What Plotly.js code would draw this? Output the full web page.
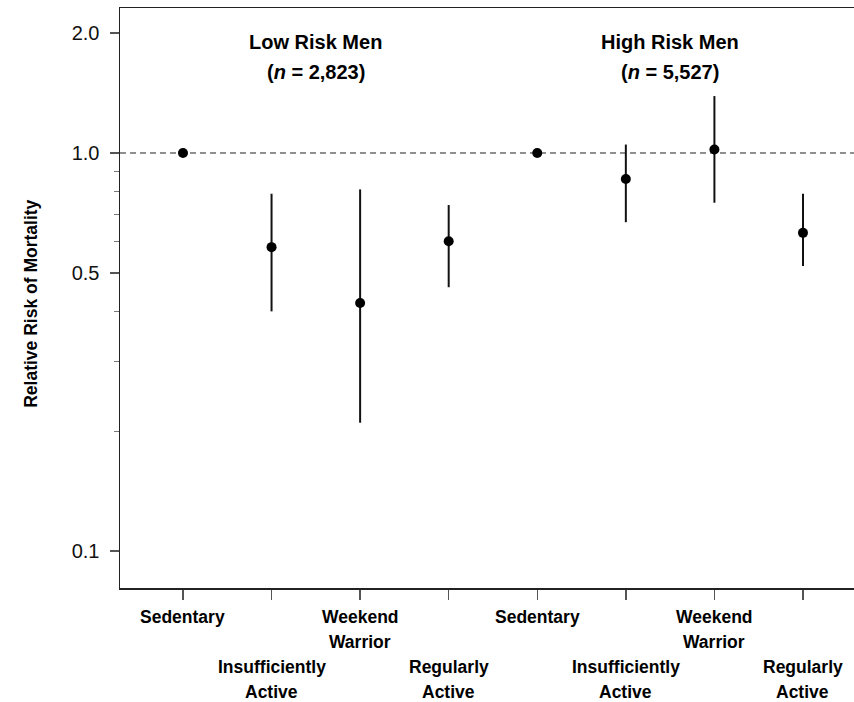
<!DOCTYPE html>
<html>
<head>
<meta charset="utf-8">
<script src="https://cdn.plot.ly/plotly-3.0.1.min.js"></script>
<style>html,body{margin:0;padding:0;background:#fff;}#chart{width:854px;height:702px;}</style>
</head>
<body>
<div id="chart"></div>
<script>
// ---- data ----
const categories = ["Sedentary", "Insufficiently Active", "Weekend Warrior", "Regularly Active"];
const categoryLines = [["Sedentary"], ["Insufficiently", "Active"], ["Weekend", "Warrior"], ["Regularly", "Active"]];
const groups = ["Low Risk Men", "High Risk Men"];
const groupN = ["2,823", "5,527"];

const lowRR   = [1.00, 0.58, 0.42, 0.60];
const lowLow  = [1.00, 0.40, 0.21, 0.46];
const lowHigh = [1.00, 0.79, 0.81, 0.74];

const highRR   = [1.00, 0.86, 1.02, 0.63];
const highLow  = [1.00, 0.67, 0.75, 0.52];
const highHigh = [1.00, 1.05, 1.39, 0.79];

const yTickVals = [0.1, 0.5, 1.0, 2.0];
const yTickText = ["0.1", "0.5", "1.0", "2.0"];
const yMinorVals = [0.2, 0.3, 0.4, 0.6, 0.7, 0.8, 0.9];
const referenceRR = 1.0;

// ---- build ----
const FONT = "Liberation Sans, Arial, Helvetica, sans-serif";
const nC = categories.length;
const series = [
  {rr: lowRR, lo: lowLow, hi: lowHigh},
  {rr: highRR, lo: highLow, hi: highHigh}
];

const traces = series.map((s, g) => ({
  type: "scatter",
  mode: "markers",
  x: s.rr.map((_, i) => g * nC + i),
  y: s.rr,
  marker: {color: "#000", size: 10},
  error_y: {
    type: "data",
    symmetric: false,
    array: s.hi.map((h, i) => h - s.rr[i]),
    arrayminus: s.lo.map((l, i) => s.rr[i] - l),
    color: "#111",
    thickness: 2,
    width: 0
  },
  hoverinfo: "skip",
  showlegend: false
}));

const allX = [];
for (let g = 0; g < groups.length; g++) for (let i = 0; i < nC; i++) allX.push(g * nC + i);

const annotations = [];
// group titles
groups.forEach((name, g) => {
  const cx = g * nC + (nC - 1) / 2;
  annotations.push({
    x: cx, xref: "x", y: 0.941, yref: "paper", yanchor: "middle",
    text: "<b>" + name + "</b>", showarrow: false,
    font: {family: FONT, size: 20, color: "#000"}
  });
  annotations.push({
    x: cx, xref: "x", y: 0.889, yref: "paper", yanchor: "middle",
    text: "<b>(<i>n</i> = " + groupN[g] + ")</b>", showarrow: false,
    font: {family: FONT, size: 20, color: "#000"}
  });
});
// staggered category labels
allX.forEach((xv) => {
  const ci = xv % nC;
  const startRow = (ci % 2 === 1) ? 2 : 0;
  categoryLines[ci].forEach((line, j) => {
    annotations.push({
      x: xv, xref: "x", y: 0, yref: "paper", yanchor: "middle",
      yshift: -(29 + 25 * (startRow + j)),
      text: "<b>" + line + "</b>", showarrow: false,
      font: {family: FONT, size: 17.5, color: "#000"}
    });
  });
});
// y title
annotations.push({
  x: 0, xref: "paper", xshift: -89, y: 0.49, yref: "paper",
  xanchor: "center", yanchor: "middle", textangle: -90,
  text: "<b>Relative Risk of Mortality</b>", showarrow: false,
  font: {family: FONT, size: 17.5, color: "#000"}
});

const layout = {
  width: 854, height: 702,
  margin: {l: 120, r: 0, t: 8, b: 114},
  paper_bgcolor: "#fff", plot_bgcolor: "#fff",
  font: {family: FONT, color: "#000"},
  showlegend: false,
  xaxis: {
    range: [-0.711, 7.576],
    tickmode: "array", tickvals: allX, ticktext: allX.map(() => ""),
    showticklabels: false,
    ticks: "outside", ticklen: 10, tickwidth: 1.5, tickcolor: "#555",
    showline: true, linecolor: "#222", linewidth: 1.5, mirror: true,
    showgrid: false, zeroline: false, fixedrange: true
  },
  yaxis: {
    type: "log",
    range: [-1.093, 0.3643],
    tickmode: "array", tickvals: yTickVals, ticktext: yTickText,
    ticks: "outside", ticklen: 9, tickwidth: 1.5, tickcolor: "#555",
    ticklabelstandoff: 6,
    tickfont: {family: FONT, size: 20, color: "#111"},
    minor: {tickmode: "array", tickvals: yMinorVals, ticks: "outside", ticklen: 5, tickwidth: 1, tickcolor: "#777", showgrid: false},
    showline: true, linecolor: "#222", linewidth: 1.5,
    showgrid: false, zeroline: false, fixedrange: true
  },
  shapes: [{
    type: "line", xref: "paper", x0: 0, x1: 1, yref: "y", y0: referenceRR, y1: referenceRR,
    line: {color: "#222", width: 1, dash: "6px,4px"}, layer: "below"
  }],
  annotations: annotations
};

Plotly.newPlot("chart", traces, layout, {displayModeBar: false, staticPlot: true});
</script>
</body>
</html>
